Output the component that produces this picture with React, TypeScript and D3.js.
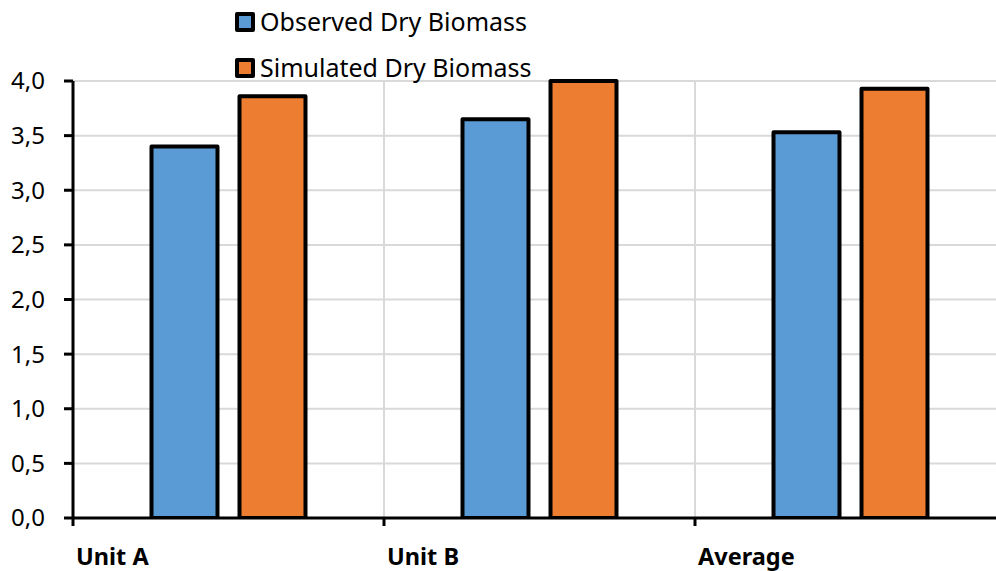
import React from "react";
import * as d3 from "d3";

const categories = ["Unit A", "Unit B", "Average"];
const seriesNames = ["Observed Dry Biomass", "Simulated Dry Biomass"];
const observed = [3.4, 3.65, 3.53];
const simulated = [3.86, 4.0, 3.93];
const yTicks = [0, 0.5, 1, 1.5, 2, 2.5, 3, 3.5, 4];
const colors = ["#5b9bd5", "#ed7d31"];

const W = 996;
const H = 571;
const left = 73;
const catW = 311;
const top = 81;
const bottom = 518;

export default function App() {
  const x0 = d3.scaleBand<string>().domain(categories).range([left, left + catW * categories.length]).padding(0);
  const x1 = d3.scaleBand<string>().domain(seriesNames).range([0, x0.bandwidth()]).paddingInner(0.25).paddingOuter(0.892);
  const y = d3.scaleLinear().domain([0, 4]).range([bottom, top]);
  const values = [observed, simulated];
  const fmt = (v: number) => v.toFixed(1).replace(".", ",");
  const font = "'Noto Sans', 'Open Sans', sans-serif";

  return (
    <svg width={W} height={H} style={{ position: "absolute", left: 0, top: 0, background: "#fff" }} fontFamily={font}>
      <defs>
        <clipPath id="plot">
          <rect x={left} y={top - 3} width={W - left} height={bottom - top + 3} />
        </clipPath>
      </defs>
      {/* horizontal grid */}
      {yTicks.slice(1).map((t) => (
        <line key={"g" + t} x1={left} x2={W} y1={y(t)} y2={y(t)} stroke="#d9d9d9" strokeWidth={2} />
      ))}
      {/* vertical grid */}
      {categories.slice(1).map((c) => (
        <line key={"v" + c} x1={x0(c)!} x2={x0(c)!} y1={top} y2={bottom} stroke="#d9d9d9" strokeWidth={2} />
      ))}
      {/* bars */}
      <g clipPath="url(#plot)">
        {categories.map((c, i) =>
          seriesNames.map((s, j) => (
            <rect
              key={c + s}
              x={x0(c)! + x1(s)!}
              y={y(values[j][i])}
              width={x1.bandwidth()}
              height={bottom - y(values[j][i])}
              fill={colors[j]}
              stroke="#000"
              strokeWidth={4}
              strokeLinejoin="round"
            />
          ))
        )}
      </g>
      {/* axes */}
      <line x1={left} x2={left} y1={top} y2={bottom} stroke="#000" strokeWidth={3} />
      <line x1={left} x2={W} y1={bottom} y2={bottom} stroke="#000" strokeWidth={3} />
      {yTicks.map((t) => (
        <g key={"yt" + t}>
          <line x1={left - 9} x2={left} y1={y(t)} y2={y(t)} stroke="#000" strokeWidth={3} />
          <text x={45} y={y(t)} dy="0.35em" textAnchor="end" fontSize={24} fill="#000">
            {fmt(t)}
          </text>
        </g>
      ))}
      {categories.map((c) => (
        <g key={"xt" + c}>
          <line x1={x0(c)!} x2={x0(c)!} y1={bottom} y2={bottom + 8} stroke="#000" strokeWidth={3} />
          <text x={x0(c)! + 3} y={565} fontSize={23.5} fontWeight="bold" fill="#000">
            {c}
          </text>
        </g>
      ))}
      {/* legend */}
      {seriesNames.map((s, j) => (
        <g key={"lg" + s} transform={`translate(237, ${14 + j * 46})`}>
          <rect x={0} y={0} width={16} height={16} fill={colors[j]} stroke="#000" strokeWidth={4} strokeLinejoin="round" />
          <text x={23} y={17} fontSize={25} fill="#000">
            {s}
          </text>
        </g>
      ))}
    </svg>
  );
}
